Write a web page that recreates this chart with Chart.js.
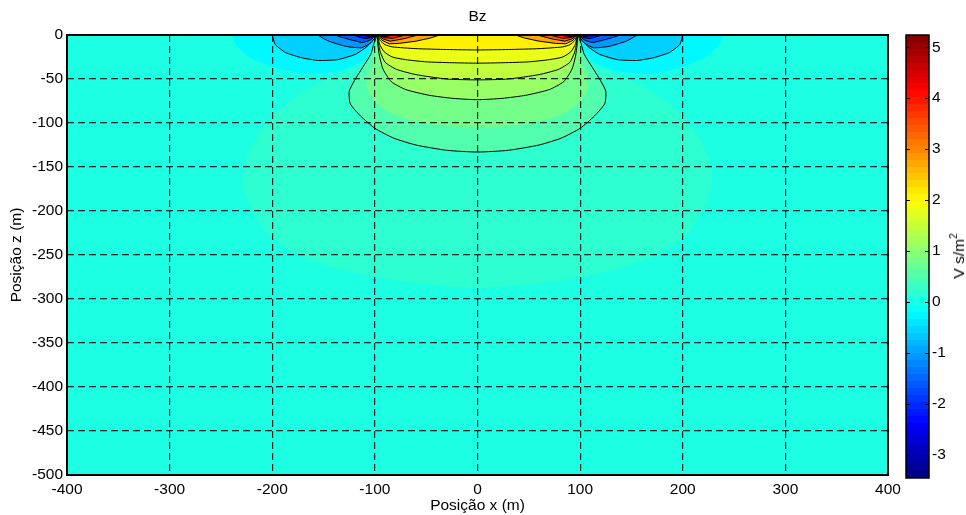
<!DOCTYPE html>
<html>
<head>
<meta charset="utf-8">
<script src="https://cdn.jsdelivr.net/npm/chart.js@4.4.1/dist/chart.umd.min.js"></script>
<style>
  html, body { margin: 0; padding: 0; background: #fff; }
  #wrap { position: relative; width: 966px; height: 515px; }
  #main { position: absolute; left: 0; top: 0; }
  #cbar { position: absolute; left: 880px; top: 0; }
  #cblabel {
    position: absolute; left: 959px; top: 256px;
    transform: translate(-50%, -50%) rotate(-90deg);
    font: 15.5px "Liberation Sans", Arial, sans-serif; white-space: nowrap; color: #000;
  }
  #cblabel sup { font-size: 10px; position: relative; top: -7px; vertical-align: baseline; }
</style>
</head>
<body>
<div id="wrap">
  <canvas id="main" width="966" height="515"></canvas>
  <canvas id="cbar" width="86" height="515"></canvas>
  <div id="cblabel">V s/m<sup>2</sup></div>
</div>
<script>
const xTicks = [-400, -300, -200, -100, 0, 100, 200, 300, 400];
const zTicks = [-500, -450, -400, -350, -300, -250, -200, -150, -100, -50, 0];
const colorRange = [-3.45, 5.24];
const colorTicks = [-3, -2, -1, 0, 1, 2, 3, 4, 5];
const backgroundLevel = 0.05;

// contours, [x, z] in metres.
// the field is symmetric about x = 0, so only the left half is listed.

// faint level around the centre, from its top (on the axis) round to its bottom
const faintHalf = [[0, -15], [-60, -22], [-100, -30], [-130, -42], [-160, -58], [-185, -77], [-205, -99],
  [-219, -125], [-228, -150], [-228, -170], [-222, -192], [-203, -227], [-168, -253], [-116, -271], [-60, -282], [0, -287]];
const faintValue = 0.2;

// positive centre lobe: from the surface near the coil down to the axis
const lineA = [[-98, 0], [-101, -10], [-104, -22], [-112, -37], [-120, -52], [-125, -64], [-124, -78], [-114, -92],
  [-100, -106], [-82, -117], [-60, -125], [-30, -131], [0, -133]];
const fillA2 = [[-97.8, 0], [-99, -15], [-103, -35], [-108, -52], [-105, -68], [-94, -82], [-76, -93], [-52, -100], [-26, -104], [0, -105]];
const lineB = [[-97.6, 0], [-97, -12], [-95.5, -24], [-92, -39], [-84, -53], [-70, -62], [-47, -68.5], [-24, -72], [0, -73.5]];
const lineC = [[-97.4, 0], [-96.5, -10], [-94.5, -20], [-90, -31], [-79, -39], [-60, -45], [-30, -50], [0, -51]];
const lineD = [[-97.2, 0], [-95.5, -10], [-91, -19], [-83, -25], [-70, -28], [-50, -30.5], [-25, -31.5], [0, -32]];
const lineE = [[-97, 0], [-95, -6], [-90, -11], [-83, -13.5], [-60, -15.5], [-30, -16.5], [0, -17]];
const centreCurves = [lineA, fillA2, lineB, lineC, lineD, lineE];
const centreValues = [0.5, 0.8, 1.1, 1.45, 1.8, 2.1];
const centreDrawn = [true, false, true, true, true, true];

// small wedges beside the coil (positive side)
const lineF = [[-96.8, 0], [-93, -6], [-86, -10], [-76, -9.5], [-60, -7], [-46, -3.5], [-37, 0]];
const lineG = [[-96.5, 0], [-92, -4.5], [-85, -7], [-73, -4.5], [-58, 0]];
const lineH = [[-96.2, 0], [-91, -3], [-83, -3.8], [-70, 0]];
const lineI = [[-96, 0], [-91, -1.8], [-80, 0]];
const lineJ = [[-95.8, 0], [-92, -0.9], [-86, 0]];
const wedgeCurves = [lineF, lineG, lineH, lineI, lineJ];
const wedgeValues = [2.75, 3.3, 3.9, 4.5, 5.0];

// negative lobe outside the coil
const fillNF = [[-240, 0], [-234, -13], [-220, -27], [-195, -38], [-165, -44], [-135, -41], [-114, -31], [-104, -17], [-99.5, -5], [-98.6, 0]];
const lineN1 = [[-200, 0], [-197, -11], [-187, -20], [-171, -26], [-155, -29], [-136, -28], [-119, -22], [-108, -13.5], [-101, -4], [-98.7, 0]];
const lineN2 = [[-155, 0], [-145, -7], [-128, -13], [-113, -14.5], [-104, -9], [-99.5, -2.5], [-98.8, 0]];
const lineN3 = [[-138, 0], [-125, -5], [-112, -8.5], [-104, -5.5], [-99.2, 0]];
const lineN4 = [[-120, 0], [-110, -4], [-103, -2.8], [-99.4, 0]];
const lineN5 = [[-110, 0], [-104, -1.8], [-99.6, 0]];
const lineN6 = [[-104, 0], [-101, -0.8], [-99.8, 0]];
const lobeCurves = [fillNF, lineN1, lineN2, lineN3, lineN4, lineN5, lineN6];
const lobeValues = [-0.25, -0.6, -1.05, -1.55, -2.2, -2.8, -3.3];
const lobeDrawn = [false, true, true, true, true, true, true];

const TOP = 12; // shapes touching the surface are closed above the plot, out of view

function jetAt(f) {
  const c = k => Math.round(255 * Math.min(1, Math.max(0, 1.5 - Math.abs(4 * f - k))));
  return `rgb(${c(3)},${c(2)},${c(1)})`;
}
function jet(v) {
  return jetAt((v - colorRange[0]) / (colorRange[1] - colorRange[0]));
}

function flip(pts) { return pts.map(([x, z]) => [-x, z]); }
function centreShape(half) {
  const full = half.concat(flip(half.slice(0, -1)).reverse());
  const a = full[0], b = full[full.length - 1];
  return [[a[0], TOP]].concat(full, [[b[0], TOP], [a[0], TOP]]);
}
function closedShape(half) {
  const full = half.concat(flip(half.slice(1, -1)).reverse());
  full.push(half[0]);
  return full;
}
function edgeShape(pts) {
  const a = pts[0], b = pts[pts.length - 1];
  return [[a[0], TOP]].concat(pts, [[b[0], TOP], [a[0], TOP]]);
}

// bottom to top
const layers = [];
layers.push({pts: closedShape(faintHalf), value: faintValue, drawn: false, tension: 0.3});
lobeCurves.forEach((c, i) => {
  layers.push({pts: edgeShape(c), value: lobeValues[i], drawn: lobeDrawn[i], tension: 0.15});
  layers.push({pts: edgeShape(flip(c)), value: lobeValues[i], drawn: lobeDrawn[i], tension: 0.15});
});
centreCurves.forEach((c, i) => {
  layers.push({pts: centreShape(c), value: centreValues[i], drawn: centreDrawn[i], tension: 0.2});
});
wedgeCurves.forEach((c, i) => {
  layers.push({pts: edgeShape(c), value: wedgeValues[i], drawn: true, tension: 0});
  layers.push({pts: edgeShape(flip(c)), value: wedgeValues[i], drawn: true, tension: 0});
});

Chart.defaults.font.family = '"Liberation Sans", Arial, sans-serif';
Chart.defaults.font.size = 15.5;
Chart.defaults.color = '#000';

const plotBackground = {
  id: 'plotBackground',
  beforeDatasetsDraw(chart) {
    const {ctx, chartArea: a} = chart;
    ctx.save();
    ctx.fillStyle = jet(backgroundLevel);
    ctx.fillRect(a.left, a.top, a.width, a.height);
    ctx.restore();
  }
};
const frame = {
  id: 'frame',
  afterDraw(chart, args, opts) {
    const {ctx, chartArea: a} = chart;
    ctx.save();
    ctx.strokeStyle = '#000';
    ctx.lineWidth = opts.width || 1;
    ctx.strokeRect(a.left, a.top, a.width, a.height);
    ctx.restore();
  }
};

const gridColor = 'rgba(0,0,0,0.85)';

new Chart(document.getElementById('main'), {
  type: 'line',
  data: {
    datasets: layers.map((l, i) => ({
      data: l.pts.map(([x, z]) => ({x: x, y: z})),
      fill: 'shape',
      backgroundColor: jet(l.value),
      borderColor: '#000',
      borderWidth: l.drawn ? 1 : 0,
      pointRadius: 0,
      tension: l.tension,
      order: layers.length - i
    }))
  },
  options: {
    responsive: false,
    animation: false,
    events: [],
    layout: {padding: {left: 0, right: 78, top: 0, bottom: 0}},
    plugins: {
      legend: {display: false},
      tooltip: {enabled: false},
      title: {
        display: true, text: 'Bz', fullSize: false,
        font: {size: 15.5, weight: 'normal'},
        padding: {top: 7.7, bottom: 8.7}
      },
      frame: {width: 2}
    },
    scales: {
      x: {
        type: 'linear', min: -400, max: 400,
        afterBuildTicks: s => { s.ticks = xTicks.map(v => ({value: v})); },
        afterFit: s => { s.height = 40; },
        grid: {color: gridColor, lineWidth: 1.2, drawTicks: false, z: 1},
        border: {display: false, dash: [7, 4]},
        ticks: {padding: 5, autoSkip: false, maxRotation: 0},
        title: {display: true, text: 'Posição x (m)', padding: 0}
      },
      y: {
        type: 'linear', min: -500, max: 0,
        afterBuildTicks: s => { s.ticks = zTicks.map(v => ({value: v})); },
        afterFit: s => { s.width = 67; },
        grid: {color: gridColor, lineWidth: 1.2, drawTicks: false, z: 1},
        border: {display: false, dash: [7, 4]},
        ticks: {padding: 4, autoSkip: false},
        title: {display: true, text: 'Posição z (m)', padding: {top: 7, bottom: 0}}
      }
    }
  },
  plugins: [plotBackground, frame]
});

function colorbarFill(c) {
  const chart = c.chart;
  const y = chart.scales.y;
  if (!y || !chart.chartArea) return jet(0);
  const g = chart.ctx.createLinearGradient(0, y.getPixelForValue(colorRange[0]), 0, y.getPixelForValue(colorRange[1]));
  const n = 64;
  for (let i = 0; i < n; i++) {
    const col = jetAt((i + 0.5) / n);
    g.addColorStop(i / n, col);
    g.addColorStop((i + 1) / n, col);
  }
  return g;
}

new Chart(document.getElementById('cbar'), {
  type: 'bar',
  data: {
    labels: [''],
    datasets: [{
      data: [colorRange],
      backgroundColor: colorbarFill,
      borderWidth: 0,
      barPercentage: 1,
      categoryPercentage: 1
    }]
  },
  options: {
    responsive: false,
    animation: false,
    events: [],
    layout: {padding: {left: 26, top: 35, bottom: 37, right: 0}},
    plugins: {legend: {display: false}, tooltip: {enabled: false}, frame: {width: 1.5}},
    scales: {
      x: {display: false},
      y: {
        position: 'right', min: colorRange[0], max: colorRange[1],
        afterBuildTicks: s => { s.ticks = colorTicks.map(v => ({value: v})); },
        afterFit: s => { s.width = 37; },
        grid: {color: '#000', lineWidth: 1, drawTicks: false, z: 1},
        border: {display: false, dash: [4, 15]},
        ticks: {padding: 3, autoSkip: false}
      }
    }
  },
  plugins: [frame]
});
</script>
</body>
</html>
